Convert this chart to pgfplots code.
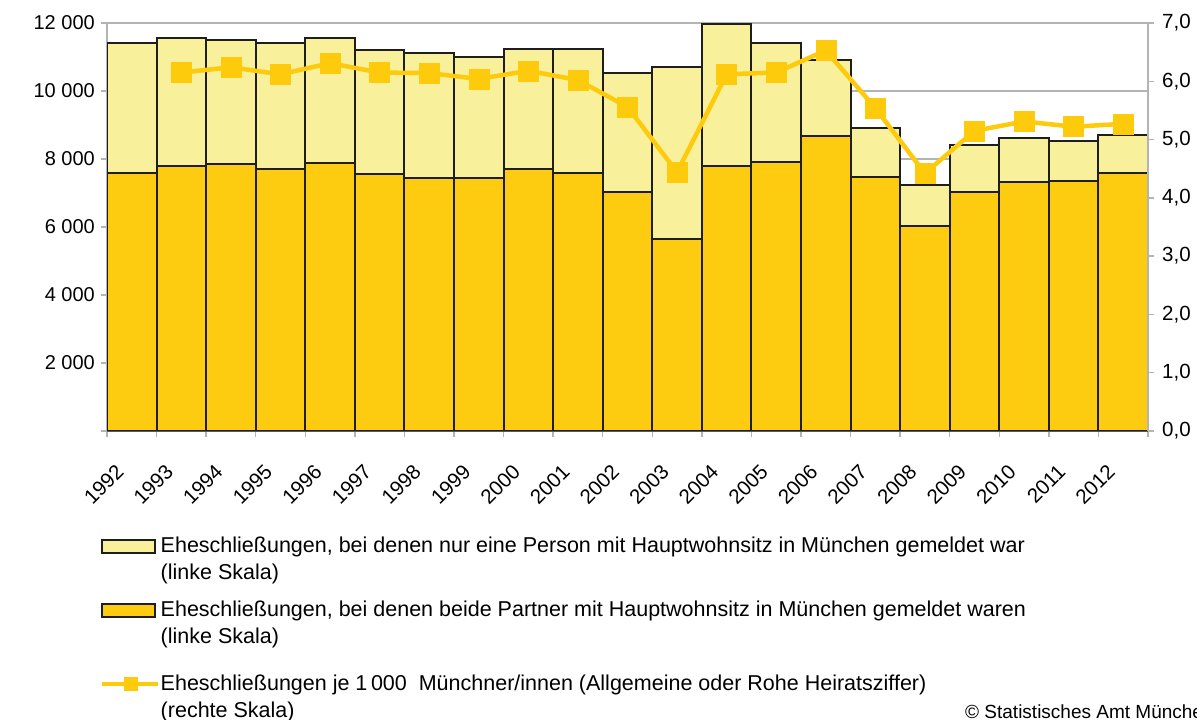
\documentclass[border=0pt]{standalone}
\usepackage{fontspec}
\setmainfont{Liberation Sans}
\usepackage{pgfplots}
\pgfplotsset{compat=1.18}
\definecolor{light}{HTML}{F8F09A}
\definecolor{dark}{HTML}{FDCB0F}
\definecolor{linec}{HTML}{FDCA0C}
\definecolor{outl}{HTML}{1E1E1E}
\definecolor{gridc}{HTML}{B4B4B4}
\definecolor{axc}{HTML}{595959}
\begin{document}
\begin{tikzpicture}[x=1pt,y=1pt]
\useasboundingbox (0,0) rectangle (1197,720);
\begin{axis}[
  at={(107pt,289pt)}, anchor=south west, scale only axis,
  width=1041pt, height=408pt,
  ybar stacked, bar width=1,
  xmin=-0.5, xmax=20.5, ymin=0, ymax=12000,
  axis x line*=bottom, axis y line*=left,
  x axis line style={axc, line width=2pt},
  y axis line style={gridc, line width=1.3pt},
  tick style={gridc, line width=1.3pt},
  major tick length=6pt, tick align=outside,
  ymajorgrids, grid style={gridc, line width=1.3pt},
  scaled y ticks=false,
  ytick={0,2000,4000,6000,8000,10000,12000},
  yticklabels={{},2\ 000,4\ 000,6\ 000,8\ 000,10\ 000,12\ 000},
  yticklabel style={anchor=east, inner sep=0pt, xshift=-6pt, font=\fontsize{20}{24}\selectfont},
  xtick={-0.5,0.5,...,20.5},
  xticklabels={1992,1993,1994,1995,1996,1997,1998,1999,2000,2001,2002,2003,2004,2005,2006,2007,2008,2009,2010,2011,2012,{}},
  xticklabel style={xshift=13pt, yshift=-31pt, rotate=45, anchor=east, inner sep=0pt, font=\fontsize{20.5}{24}\selectfont},
  legend style={at={(axis description cs:-0.0067,-0.255)}, anchor=north west,
    draw=none, fill=none, inner sep=0pt,
    font=\fontsize{21.5}{27}\selectfont,
    cells={anchor=west, align=left, inner sep=0pt}, row sep=16pt, column sep=-2pt},
  legend cell align=left,
]
\addplot[fill=dark, draw=outl, line width=2pt, forget plot] coordinates {
(0,7600) (1,7790) (2,7860) (3,7700) (4,7890) (5,7570) (6,7450) (7,7430) (8,7720) (9,7580)
(10,7030) (11,5650) (12,7790) (13,7900) (14,8670) (15,7460) (16,6020) (17,7040) (18,7320) (19,7360) (20,7590)};
\addplot[fill=light, draw=outl, line width=2pt, forget plot] coordinates {
(0,3800) (1,3760) (2,3640) (3,3700) (4,3680) (5,3630) (6,3660) (7,3570) (8,3520) (9,3650)
(10,3510) (11,5070) (12,4190) (13,3510) (14,2250) (15,1440) (16,1225) (17,1380) (18,1310) (19,1180) (20,1110)};
\addlegendimage{legend image code/.code={\draw[draw=outl, fill=light, line width=2pt] (0pt,6.5pt) rectangle (53pt,19.5pt);}}
\addlegendentry{Eheschließungen, bei denen nur eine Person mit Hauptwohnsitz in München gemeldet war\\(linke Skala)}
\addlegendimage{legend image code/.code={\draw[draw=outl, fill=dark, line width=2pt] (0pt,6.5pt) rectangle (53pt,19.5pt);}}
\addlegendentry{Eheschließungen, bei denen beide Partner mit Hauptwohnsitz in München gemeldet waren\\(linke Skala)}
\addlegendimage{legend image code/.code={\draw[linec, line width=4.5pt] (0pt,8pt)--(56pt,8pt); \fill[linec] (21.5pt,1.5pt) rectangle (34.5pt,14.5pt);}}
\addlegendentry{\rule{0pt}{25pt}Eheschließungen je 1\,000\ \ Münchner/innen (Allgemeine oder Rohe Heiratsziffer)\\(rechte Skala)}
\end{axis}
\begin{axis}[
  at={(107pt,289pt)}, anchor=south west, scale only axis,
  width=1041pt, height=408pt,
  xmin=-0.5, xmax=20.5, ymin=0, ymax=7,
  axis x line=none, axis y line*=right,
  y axis line style={gridc, line width=1.3pt},
  tick style={gridc, line width=1.3pt},
  major tick length=6pt, tick align=outside,
  ytick={0,1,...,7},
  /pgf/number format/assume math mode=true,
  yticklabel={\pgfmathprintnumber[fixed, fixed zerofill, precision=1, use comma]{\tick}},
  yticklabel style={anchor=west, inner sep=0pt, xshift=8pt, font=\fontsize{20.5}{24}\selectfont},
]
\addplot[linec, line width=4.5pt, mark=square*, mark size=10pt, mark options={solid, line width=0.5pt}] coordinates {
(1,6.15) (2,6.24) (3,6.12) (4,6.31) (5,6.15) (6,6.14) (7,6.04) (8,6.18) (9,6.02) (10,5.56)
(11,4.44) (12,6.12) (13,6.15) (14,6.53) (15,5.54) (16,4.42) (17,5.15) (18,5.31) (19,5.22) (20,5.27)};
\end{axis}
\node[anchor=base west, inner sep=0pt, font=\fontsize{19}{22}\selectfont] at (965,1.5) {© Statistisches Amt München};
\end{tikzpicture}
\end{document}
